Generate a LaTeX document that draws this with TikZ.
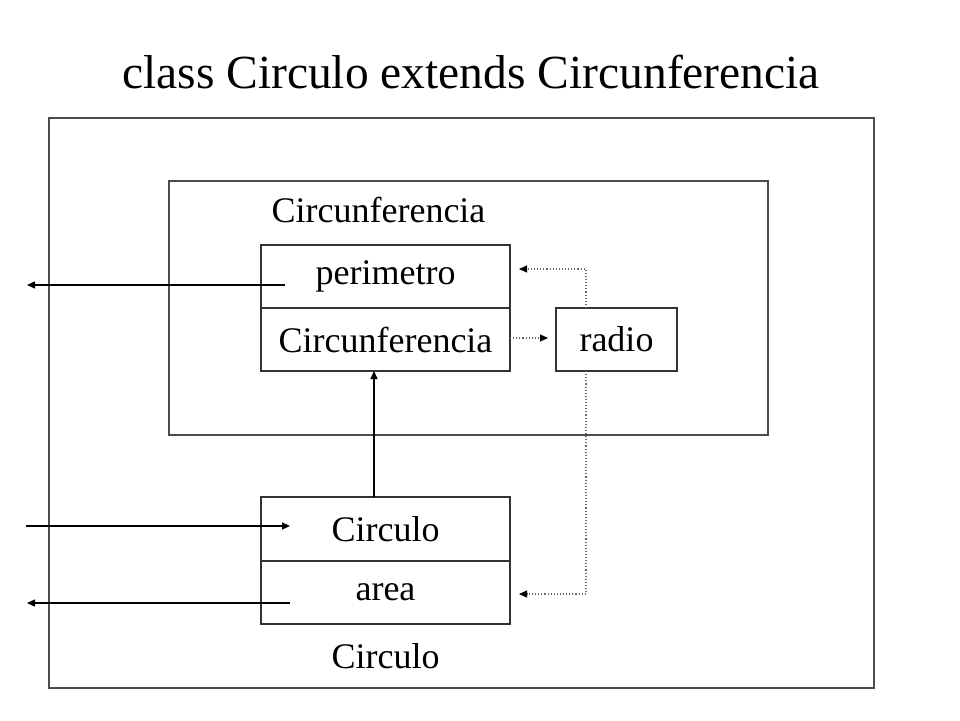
\documentclass[tikz,border=0pt]{standalone}
\usepackage{fontspec}
\setmainfont{Liberation Serif}
\usetikzlibrary{arrows.meta}
\begin{document}
\begin{tikzpicture}[x=1pt,y=-1pt,
  frame/.style={draw=black!70,line width=1.6pt,inner sep=0pt,outer sep=0pt},
  cell/.style={draw=black!80,line width=1.4pt,inner sep=0pt,outer sep=0pt,minimum width=249pt,minimum height=63pt},
  lbl/.style={font=\fontsize{36}{40}\selectfont,inner sep=0pt},
  arr/.style={line width=1.3pt,-{Triangle[length=8pt,width=7pt]}},
  dot/.style={draw=black!60,line width=1.1pt,dotted,-{Triangle[length=8pt,width=7pt,color=black]}}]
\useasboundingbox (0,0) rectangle (960,720);
\node[lbl,font=\fontsize{47.5}{52}\selectfont] (title) at (471,72) {class Circulo extends Circunferencia};
\node[frame,minimum width=825pt,minimum height=570pt] (outer) at (461.5,403) {};
\node[frame,minimum width=599pt,minimum height=254pt] (inner) at (468.5,308) {};
\node[lbl] (innerlbl) at (378.5,210) {Circunferencia};
\node[cell] (perim) at (385.5,276.5) {};
\node[lbl] (perimlbl) at (385.5,276.5) {perimetro};
\node[cell] (circ) at (385.5,339.5) {};
\node[lbl] (circlbl) at (385.5,339.5) {Circunferencia};
\node[cell,minimum width=121pt] (radio) at (616.5,339.5) {};
\node[lbl] (radiolbl) at (616.5,339.5) {radio};
\node[cell,minimum height=64pt] (circulo) at (385.5,529) {};
\node[lbl] (circulolbl) at (385.5,529) {Circulo};
\node[cell] (area) at (385.5,592.5) {};
\node[lbl] (arealbl) at (385.5,592.5) {area};
\node[lbl] (outerlbl) at (385.5,656) {Circulo};
% solid arrows
\coordinate (pstart) at (285,285);
\coordinate (pend) at (27,285);
\draw[arr] (pstart) -- (pend);
\coordinate (cstart) at (26,526);
\coordinate (cend) at (290,526);
\draw[arr] (cstart) -- (cend);
\coordinate (astart) at (290,603);
\coordinate (aend) at (27,603);
\draw[arr] (astart) -- (aend);
\draw[arr] ([xshift=-11.5pt]circulo.north) -- ([xshift=-11.5pt]circ.south);
% dotted
\coordinate (rtip) at (548,338);
\draw[dot] (circ.east |- rtip) -- (rtip);
\coordinate (ptip) at (519,269);
\draw[dot] ([xshift=-30.5pt]radio.north) |- (ptip);
\coordinate (atip) at (519,594);
\draw[dot] ([xshift=-30.5pt]radio.south) |- (atip);
\end{tikzpicture}
\end{document}
